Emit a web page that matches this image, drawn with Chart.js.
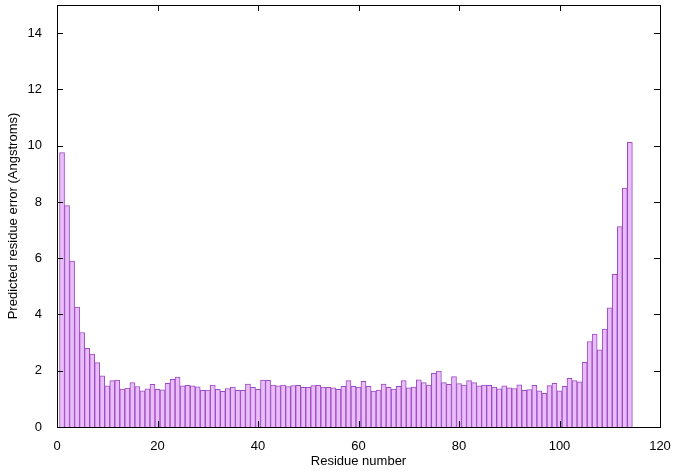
<!DOCTYPE html>
<html>
<head>
<meta charset="utf-8">
<script src="https://cdn.jsdelivr.net/npm/chart.js@4"></script>
<style>
  html, body { margin: 0; padding: 0; background: #fff; }
  #wrap { width: 675px; height: 472px; }
</style>
</head>
<body>
<div id="wrap"><canvas id="errorChart" width="675" height="472"></canvas></div>
<script>
// predicted error per residue (residues 1..114)
const errors = [
  9.75, 7.87, 5.90, 4.26, 3.36, 2.80, 2.59, 2.29, 1.82, 1.46,
  1.65, 1.67, 1.35, 1.38, 1.58, 1.44, 1.29, 1.36, 1.52, 1.34,
  1.32, 1.55, 1.69, 1.77, 1.46, 1.48, 1.46, 1.43, 1.30, 1.31,
  1.49, 1.34, 1.27, 1.37, 1.42, 1.30, 1.30, 1.53, 1.41, 1.34,
  1.67, 1.66, 1.49, 1.46, 1.49, 1.44, 1.47, 1.48, 1.41, 1.41,
  1.47, 1.48, 1.42, 1.41, 1.39, 1.34, 1.45, 1.65, 1.45, 1.42,
  1.62, 1.45, 1.28, 1.31, 1.53, 1.41, 1.35, 1.45, 1.65, 1.39,
  1.42, 1.68, 1.58, 1.49, 1.91, 1.99, 1.58, 1.52, 1.79, 1.54,
  1.49, 1.65, 1.58, 1.46, 1.49, 1.48, 1.42, 1.36, 1.46, 1.39,
  1.37, 1.50, 1.30, 1.33, 1.48, 1.29, 1.20, 1.47, 1.55, 1.29,
  1.45, 1.73, 1.65, 1.61, 2.30, 3.04, 3.30, 2.74, 3.48, 4.24,
  5.43, 7.12, 8.49, 10.12,
];
const residues = errors.map((_, i) => i + 1);

const xTicks = [0, 20, 40, 60, 80, 100, 120];
const yTicks = [0, 2, 4, 6, 8, 10, 12, 14];

const FONT = "'Liberation Sans', Arial, sans-serif";

// gnuplot style frame with inward ticks on all four sides
const framePlugin = {
  id: "frame",
  afterDraw(chart) {
    const { ctx, chartArea: a, scales } = chart;
    ctx.save();
    ctx.strokeStyle = "#000";
    ctx.lineWidth = 1;
    ctx.beginPath();
    xTicks.forEach((v) => {
      const x = Math.round(scales.x.getPixelForValue(v)) + 0.5;
      ctx.moveTo(x, a.bottom); ctx.lineTo(x, a.bottom - 6);
      ctx.moveTo(x, a.top); ctx.lineTo(x, a.top + 6);
    });
    yTicks.forEach((v) => {
      const y = Math.round(scales.y.getPixelForValue(v)) + 0.5;
      ctx.moveTo(a.left, y); ctx.lineTo(a.left + 6, y);
      ctx.moveTo(a.right, y); ctx.lineTo(a.right - 6, y);
    });
    ctx.stroke();
    ctx.strokeRect(Math.round(a.left) + 0.5, Math.round(a.top) + 0.5,
      Math.round(a.right - a.left), Math.round(a.bottom - a.top));
    ctx.restore();
  },
};

const ctx = document.getElementById("errorChart").getContext("2d");
new Chart(ctx, {
  type: "bar",
  data: {
    datasets: [
      {
        data: residues.map((r, i) => ({ x: r, y: errors[i] })),
        backgroundColor: "#ebbcfa",
        borderColor: "#9a4cc0",
        borderWidth: 1,
        borderSkipped: "bottom",
        barPercentage: 1,
        categoryPercentage: 1,
      },
    ],
  },
  plugins: [framePlugin],
  options: {
    responsive: false,
    animation: false,
    layout: { padding: { top: 5, right: 15, left: 0, bottom: 0 } },
    plugins: { legend: { display: false }, tooltip: { enabled: false } },
    scales: {
      x: {
        type: "linear",
        offset: false,
        min: 0,
        max: 120,
        afterBuildTicks: (s) => { s.ticks = xTicks.map((v) => ({ value: v })); },
        afterFit: (s) => { s.height = 45; s.paddingLeft = 0; s.paddingRight = 0; },
        grid: { display: false, offset: false },
        border: { display: false },
        ticks: { color: "#000", font: { family: FONT, size: 13 }, padding: 4, maxRotation: 0 },
        title: {
          display: true,
          text: "Residue number",
          color: "#000",
          font: { family: FONT, size: 13 },
          padding: { top: 0, bottom: 3 },
        },
      },
      y: {
        min: 0,
        max: 15,
        afterBuildTicks: (s) => { s.ticks = yTicks.map((v) => ({ value: v })); },
        afterFit: (s) => { s.width = 57; s.paddingTop = 0; s.paddingBottom = 0; },
        grid: { display: false },
        border: { display: false },
        ticks: { color: "#000", font: { family: FONT, size: 13 }, padding: 7 },
        title: {
          display: true,
          text: "Predicted residue error (Angstroms)",
          color: "#000",
          font: { family: FONT, size: 13 },
          padding: { top: 6, bottom: 0 },
        },
      },
    },
  },
});
</script>
</body>
</html>
